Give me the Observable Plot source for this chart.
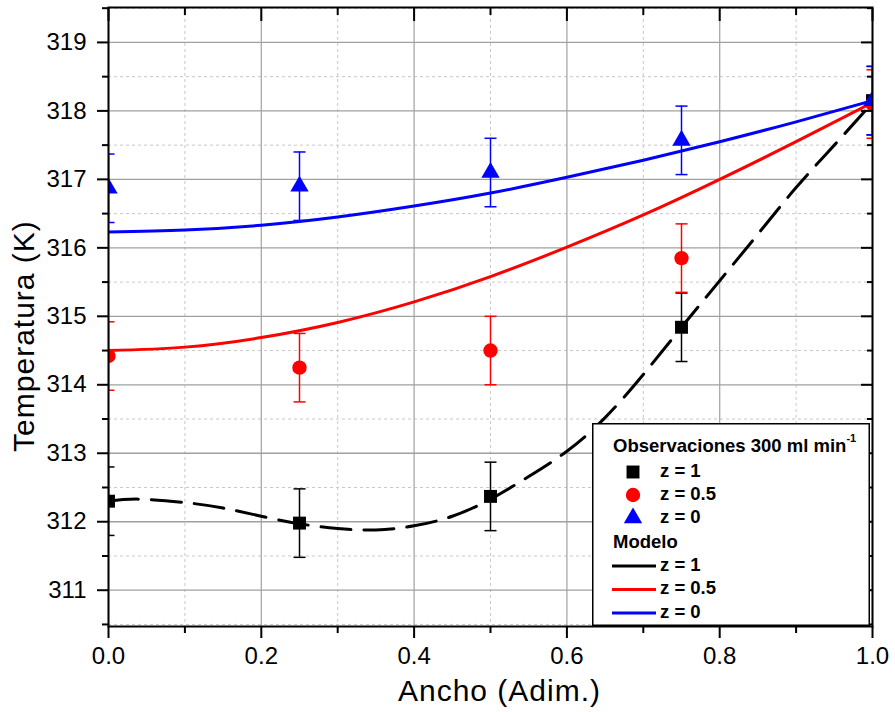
<!DOCTYPE html>
<html><head><meta charset="utf-8">
<script src="https://cdn.jsdelivr.net/npm/d3@7"></script>
<script src="https://cdn.jsdelivr.net/npm/@observablehq/plot@0.6"></script>
<style>
body{margin:0;background:#fff;}
#wrap{position:relative;width:895px;height:712px;font-family:"Liberation Sans",Arial,sans-serif;}
#legend{position:absolute;left:592px;top:423px;}
</style></head><body><div id="wrap"></div>
<script>
// ---- data ----
const xObs = [0, 0.25, 0.5, 0.75, 1];
const obsZ1 = [312.30, 311.98, 312.37, 314.84, 318.15];
const obsZ05 = [314.42, 314.25, 314.50, 315.85, 318.10];
const obsZ0 = [316.87, 316.90, 317.10, 317.57, 318.15];
const obsErr = 0.5;

const modelZ1X = [0, 0.04, 0.1, 0.15, 0.2, 0.25, 0.3, 0.35, 0.4, 0.45, 0.5, 0.55, 0.6, 0.65, 0.7, 0.75, 0.8, 0.85, 0.9, 0.95, 1.0];
const modelZ1Y = [312.30, 312.33, 312.28, 312.20, 312.08, 311.97, 311.90, 311.88, 311.94, 312.08, 312.33, 312.66, 313.03, 313.52, 314.15, 314.84, 315.52, 316.20, 316.88, 317.50, 318.12];
const modelZ05X = [0, 0.1, 0.2, 0.3, 0.4, 0.5, 0.6, 0.7, 0.8, 0.9, 1.0];
const modelZ05Y = [314.50, 314.55, 314.69, 314.91, 315.21, 315.58, 316.01, 316.48, 317.00, 317.55, 318.12];
const modelZ0X = [0, 0.1, 0.2, 0.3, 0.4, 0.5, 0.6, 0.7, 0.8, 0.9, 1.0];
const modelZ0Y = [316.23, 316.26, 316.33, 316.45, 316.61, 316.80, 317.03, 317.28, 317.55, 317.84, 318.15];

const xMajor = [0, 0.2, 0.4, 0.6, 0.8, 1.0];
const xMinor = [0.1, 0.3, 0.5, 0.7, 0.9];
const yMajor = [311, 312, 313, 314, 315, 316, 317, 318, 319];
const yMinor = [310.5, 311.5, 312.5, 313.5, 314.5, 315.5, 316.5, 317.5, 318.5, 319.5];

const seriesNames = ["z = 1", "z = 0.5", "z = 0"];
const seriesColors = ["black", "red", "blue"];
const seriesSymbols = ["square", "circle", "triangle"];
const legendObsTitle = "Observaciones 300 ml min";
const legendObsSup = "-1";
const legendModelTitle = "Modelo";
const xTitle = "Ancho (Adim.)";
const yTitle = "Temperatura (K)";

// ---- build tables ----
const obsSets = [obsZ1, obsZ05, obsZ0];
const obs = [];
obsSets.forEach((arr, i) => arr.forEach((v, j) => obs.push({x: xObs[j], y: v, s: i})));
const models = [[modelZ1X, modelZ1Y], [modelZ05X, modelZ05Y], [modelZ0X, modelZ0Y]]
  .map(([xs, ys]) => xs.map((x, j) => ({x, y: ys[j]})));

const capSymbol = {draw(ctx, size) { const w = Math.sqrt(size / Math.PI); ctx.moveTo(-w, 0); ctx.lineTo(w, 0); }};
const font = "Liberation Sans, Arial, sans-serif";
const markerR = [7.3, 7.2, 6.8];

const marks = [
  Plot.ruleX(xMinor, {stroke: "#c8c8c8", strokeDasharray: "3,3", strokeWidth: 1}),
  Plot.ruleY(yMinor, {stroke: "#c8c8c8", strokeDasharray: "3,3", strokeWidth: 1}),
  Plot.ruleX(xMajor, {stroke: "#a8a8a8", strokeWidth: 1.3}),
  Plot.ruleY(yMajor, {stroke: "#a0a0a0", strokeWidth: 1.3}),
  Plot.line(models[2], {x: "x", y: "y", stroke: "blue", strokeWidth: 3, curve: "natural", clip: true}),
  Plot.line(models[1], {x: "x", y: "y", stroke: "red", strokeWidth: 3, curve: "natural", clip: true}),
  Plot.line(models[0], {x: "x", y: "y", stroke: "black", strokeWidth: 3, strokeDasharray: "30,13", curve: "natural", clip: true})
];
[0, 1, 2].forEach(i => {
  const d = obs.filter(o => o.s === i);
  const c = seriesColors[i];
  marks.push(
    Plot.ruleX(d, {x: "x", y1: o => o.y - obsErr, y2: o => o.y + obsErr, stroke: c, strokeWidth: 1.5, clip: true}),
    Plot.dot(d, {x: "x", y: o => o.y - obsErr, symbol: capSymbol, r: 6, stroke: c, strokeWidth: 1.5, clip: true}),
    Plot.dot(d, {x: "x", y: o => o.y + obsErr, symbol: capSymbol, r: 6, stroke: c, strokeWidth: 1.5, clip: true}),
    Plot.dot(d, {x: "x", y: "y", symbol: seriesSymbols[i], r: markerR[i], fill: c, stroke: "none", clip: true})
  );
});
marks.push(
  Plot.frame({stroke: "black", strokeWidth: 2}),
  Plot.axisX(xMajor, {anchor: "bottom", tickSize: 12, tickPadding: 8, fontSize: 24, tickFormat: d3.format(".1f"), label: null, strokeWidth: 2}),
  Plot.axisX(xMinor, {anchor: "bottom", tickSize: 7, tickFormat: () => "", label: null, strokeWidth: 2}),
  Plot.axisX(xMajor, {anchor: "top", tickSize: -13, tickFormat: () => "", label: null, strokeWidth: 2}),
  Plot.axisX(xMinor, {anchor: "top", tickSize: -7, tickFormat: () => "", label: null, strokeWidth: 2}),
  Plot.axisY(yMajor, {anchor: "left", tickSize: 11, tickPadding: 11, fontSize: 24, tickFormat: d3.format("d"), label: null, strokeWidth: 2}),
  Plot.axisY(yMinor, {anchor: "left", tickSize: 6, tickFormat: () => "", label: null, strokeWidth: 2}),
  Plot.axisY(yMajor, {anchor: "right", tickSize: -12, tickFormat: () => "", label: null, strokeWidth: 2}),
  Plot.axisY(yMinor, {anchor: "right", tickSize: -6, tickFormat: () => "", label: null, strokeWidth: 2}),
  Plot.text([xTitle], {frameAnchor: "bottom", dx: 9, dy: 65, fontSize: 30, lineAnchor: "middle", textAnchor: "middle", fill: "black"}),
  Plot.text([yTitle], {frameAnchor: "left", dx: -84, dy: 19, rotate: -90, fontSize: 30, lineAnchor: "middle", textAnchor: "middle", fill: "black"})
);

const chart = Plot.plot({
  width: 895, height: 712,
  marginLeft: 108, marginRight: 23, marginTop: 7, marginBottom: 86,
  x: {domain: [0, 1]},
  y: {domain: [310.47, 319.51]},
  style: {fontFamily: font, background: "white", color: "black"},
  marks
});
d3.select(chart).selectAll("text").filter(function() { const t = this.textContent; return t === xTitle || t === yTitle; })
  .attr("letter-spacing", "1px");
const wrap = document.getElementById("wrap");
wrap.appendChild(chart);

// ---- legend overlay ----
const lw = 278, lh = 203;
const lg = d3.select(wrap).append("svg").attr("id", "legend").attr("width", lw).attr("height", lh)
  .style("font-family", font).style("font-weight", "bold");
lg.append("rect").attr("x", 0.75).attr("y", 0.75).attr("width", lw - 1.5).attr("height", lh - 1.5)
  .attr("fill", "white").attr("stroke", "black").attr("stroke-width", 1.5);
const t1 = lg.append("text").attr("x", 21).attr("y", 24).attr("dominant-baseline", "middle").attr("font-size", 18.5).text(legendObsTitle);
t1.append("tspan").attr("font-size", 11).attr("dy", -8).text(legendObsSup);
seriesNames.forEach((n, i) => {
  const cy = 49 + i * 23;
  lg.append("path").attr("transform", `translate(41,${cy})`)
    .attr("d", d3.symbol(d3["symbol" + seriesSymbols[i][0].toUpperCase() + seriesSymbols[i].slice(1)], markerR[i] * markerR[i] * Math.PI)())
    .attr("fill", seriesColors[i]);
  lg.append("text").attr("x", 68).attr("y", cy).attr("dominant-baseline", "middle").attr("font-size", 18.5).text(n);
});
lg.append("text").attr("x", 21).attr("y", 120).attr("dominant-baseline", "middle").attr("font-size", 18.5).text(legendModelTitle);
seriesNames.forEach((n, i) => {
  const cy = 143 + i * 23.5;
  lg.append("line").attr("x1", 20).attr("x2", 64).attr("y1", cy).attr("y2", cy).attr("stroke", seriesColors[i]).attr("stroke-width", 3);
  lg.append("text").attr("x", 68).attr("y", cy).attr("dominant-baseline", "middle").attr("font-size", 18.5).text(n);
});
</script>
</body></html>
